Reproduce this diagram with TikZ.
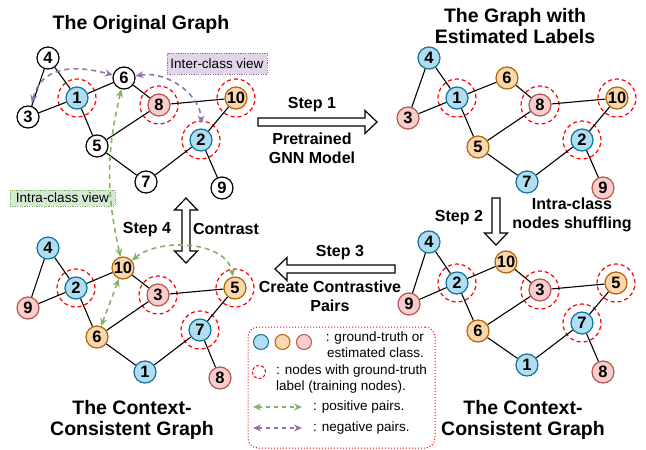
\documentclass[tikz,border=0pt]{standalone}
\usepackage{fontspec}
\setmainfont{Liberation Sans}
\usetikzlibrary{arrows.meta}

\definecolor{bluefill}{HTML}{B1DDF0}
\definecolor{blueline}{HTML}{10739E}
\definecolor{orangefill}{HTML}{FAD7AC}
\definecolor{orangeline}{HTML}{B46504}
\definecolor{redfill}{HTML}{F8CECC}
\definecolor{redline}{HTML}{B85450}
\definecolor{posgreen}{HTML}{82B366}
\definecolor{posfill}{HTML}{D5E8D4}
\definecolor{negpurple}{HTML}{9673A6}
\definecolor{negfill}{HTML}{E1D5E7}

\tikzset{
  vert/.style={circle,draw,fill=white,line width=1.2pt,minimum size=22pt,inner sep=0pt,
    font=\fontsize{16.5}{16.5}\selectfont\bfseries},
  cb/.style={fill=bluefill,draw=blueline},
  co/.style={fill=orangefill,draw=orangeline},
  cr/.style={fill=redfill,draw=redline},
  ring/.style={circle,draw=red,line width=1.2pt,dash pattern=on 4pt off 3pt,
    minimum size=38pt,inner sep=0pt},
  train/.style={label={[ring]center:}},
  edge/.style={line width=1.1pt},
  title/.style={font=\fontsize{19.5}{21.5}\selectfont\bfseries,align=center,inner sep=0pt},
  steplabel/.style={font=\fontsize{16}{19}\selectfont\bfseries,align=center,inner sep=0pt},
  legendtext/.style={font=\fontsize{13.5}{16}\selectfont,inner sep=0pt},
  blockarrow/.style={draw,fill=white,line width=1.2pt,line join=miter},
  pospair/.style={draw=posgreen,line width=1.6pt,dash pattern=on 5pt off 4pt,
    {Stealth[length=8pt,width=7pt]}-{Stealth[length=8pt,width=7pt]}},
  negpair/.style={draw=negpurple,line width=1.6pt,dash pattern=on 5pt off 4pt,
    {Stealth[length=8pt,width=7pt]}-{Stealth[length=8pt,width=7pt]}},
  viewbox/.style={line width=1pt,dash pattern=on 1.2pt off 1.2pt,inner sep=0pt,
    font=\fontsize{13.5}{13.5}\selectfont},
}

\begin{document}
\begin{tikzpicture}[x=1pt,y=-1pt]
\useasboundingbox (0,0) rectangle (646,450);

% the original graph
\node[title] (ttl) at (141,25) {The Original Graph};
\node[vert] (tl4) at (48,58) {4};
\node[vert] (tl6) at (124,78) {6};
\node[vert,cb,train] (tl1) at (77,98) {1};
\node[vert] (tl3) at (28,117) {3};
\node[vert,cr,train] (tl8) at (159,105) {8};
\node[vert,co,train] (tl10) at (236,98) {10};
\node[vert,cb,train] (tl2) at (201,140) {2};
\node[vert] (tl5) at (97,146) {5};
\node[vert] (tl7) at (146,182) {7};
\node[vert] (tl9) at (222,188) {9};
\draw[edge] (tl4) -- (tl1) (tl4) -- (tl3) (tl3) -- (tl1) (tl1) -- (tl6) (tl1) -- (tl5)
  (tl6) -- (tl8) (tl8) -- (tl10) (tl8) -- (tl5) (tl10) -- (tl2) (tl2) -- (tl7)
  (tl5) -- (tl7) (tl2) -- (tl9);

% graph with estimated labels
\node[title] (ttr) at (515,26) {The Graph with\\Estimated Labels};
\node[vert,cb] (tr4) at (429,58) {4};
\node[vert,co] (tr6) at (507,78) {6};
\node[vert,cb,train] (tr1) at (457,98) {1};
\node[vert,cr] (tr3) at (408,118) {3};
\node[vert,cr,train] (tr8) at (540,105) {8};
\node[vert,co,train] (tr10) at (617,98) {10};
\node[vert,cb,train] (tr2) at (582,140) {2};
\node[vert,co] (tr5) at (478,147) {5};
\node[vert,cb] (tr7) at (527,182) {7};
\node[vert,cr] (tr9) at (603,188) {9};
\draw[edge] (tr4) -- (tr1) (tr4) -- (tr3) (tr3) -- (tr1) (tr1) -- (tr6) (tr1) -- (tr5)
  (tr6) -- (tr8) (tr8) -- (tr10) (tr8) -- (tr5) (tr10) -- (tr2) (tr2) -- (tr7)
  (tr5) -- (tr7) (tr2) -- (tr9);

% context-consistent graph, right
\node[title] (tbr) at (523,420) {The Context-\\Consistent Graph};
\node[vert,cb] (br4) at (429,242) {4};
\node[vert,co] (br10) at (506,262) {10};
\node[vert,cb,train] (br2) at (457,283) {2};
\node[vert,cr] (br9) at (409,304) {9};
\node[vert,cr,train] (br3) at (540,290) {3};
\node[vert,co,train] (br5) at (616,283) {5};
\node[vert,co] (br6) at (478,331) {6};
\node[vert,cb,train] (br7) at (582,323) {7};
\node[vert,cb] (br1) at (527,365) {1};
\node[vert,cr] (br8) at (603,372) {8};
\draw[edge] (br4) -- (br2) (br4) -- (br9) (br9) -- (br2) (br2) -- (br10) (br2) -- (br6)
  (br10) -- (br3) (br3) -- (br5) (br3) -- (br6) (br5) -- (br7) (br7) -- (br1)
  (br6) -- (br1) (br7) -- (br8);

% context-consistent graph, left
\node[title] (tbl) at (132,420) {The Context-\\Consistent Graph};
\node[vert,cb] (bl4) at (48,248) {4};
\node[vert,co] (bl10) at (123,268) {10};
\node[vert,cb,train] (bl2) at (76,288) {2};
\node[vert,cr] (bl9) at (28,308) {9};
\node[vert,cr,train] (bl3) at (158,295) {3};
\node[vert,co,train] (bl5) at (235,288) {5};
\node[vert,co] (bl6) at (97,337) {6};
\node[vert,cb,train] (bl7) at (200,330) {7};
\node[vert,cb] (bl1) at (145,372) {1};
\node[vert,cr] (bl8) at (220,378) {8};
\draw[edge] (bl4) -- (bl2) (bl4) -- (bl9) (bl9) -- (bl2) (bl2) -- (bl10) (bl2) -- (bl6)
  (bl10) -- (bl3) (bl3) -- (bl5) (bl3) -- (bl6) (bl5) -- (bl7) (bl7) -- (bl1)
  (bl6) -- (bl1) (bl7) -- (bl8);

% steps
\draw[blockarrow] (258,118) -- (365,118) -- (365,110.5) -- (377,122) -- (365,133.5)
  -- (365,126) -- (258,126) -- cycle;
\node[steplabel] (s1) at (312,105) {Step 1};
\node[steplabel] (s1b) at (312,148.5) {Pretrained\\GNN Model};
\draw[blockarrow] (492,198) -- (492,233) -- (484.5,233) -- (496,245) -- (507.5,233)
  -- (500,233) -- (500,198) -- cycle;
\node[steplabel] (s2) at (459,218) {Step 2};
\node[steplabel] (s2b) at (572,215) {Intra-class\\nodes shuffling};
\draw[blockarrow] (395,265) -- (287,265) -- (287,257.5) -- (275,269) -- (287,280.5)
  -- (287,273) -- (395,273) -- cycle;
\node[steplabel] (s3) at (340,253) {Step 3};
\node[steplabel] (s3b) at (330,296) {Create Contrastive\\Pairs};
\draw[blockarrow] (186,198) -- (197.5,210) -- (190,210) -- (190,251) -- (197.5,251)
  -- (186,263) -- (174.5,251) -- (182,251) -- (182,210) -- (174.5,210) -- cycle;
\node[steplabel] (s4) at (147,230) {Step 4};
\node[steplabel] (s4b) at (226,229) {Contrast};

% views and pairs
\node[viewbox,draw=negpurple,fill=negfill,minimum width=100pt,minimum height=21pt]
  (inter) at (217,63.5) {Inter-class view};
\node[viewbox,draw=posgreen,fill=posfill,minimum width=105pt,minimum height=16pt]
  (intra) at (62.5,198) {Intra-class view};
\draw[negpair,shorten <=3pt] (tl3) to[out=75,in=165,looseness=1.2] (tl6);
\draw[negpair,shorten >=5pt] (tl6) to[out=10,in=90] (tl2);
\draw[pospair] (tl6) to[bend right=13] (bl10);
\draw[pospair] (bl10) to[out=40,in=100,looseness=0.9] (bl5);
\draw[pospair] (bl10) -- (bl6);

% legend
\node[draw=red,line width=1pt,dotted,rounded corners=10pt,minimum width=187pt,
  minimum height=121pt] (legend) at (341.5,387.5) {};
\node[vert,cb,minimum size=15pt,line width=1pt] (lgb) at (261,342) {};
\node[vert,co,minimum size=15pt,line width=1pt] (lgo) at (282.5,342) {};
\node[vert,cr,minimum size=15pt,line width=1pt] (lgr) at (304,342) {};
\node[ring,minimum size=13pt,line width=1pt,dash pattern=on 3pt off 2pt] (lgt) at (259,372) {};
\node[legendtext,anchor=east,align=right] (lg1) at (424,345) {: ground-truth or\\estimated class.};
\node[legendtext,anchor=west,align=left] (lg2) at (276,379) {: nodes with ground-truth\\label (training nodes).};
\coordinate (pa) at (253,407);
\coordinate (pb) at (302,407);
\coordinate (na) at (253,428);
\coordinate (nb) at (302,428);
\draw[pospair,line width=1.3pt,dash pattern=on 4pt off 4pt] (pa) -- (pb);
\draw[negpair,line width=1.3pt,dash pattern=on 4pt off 4pt] (na) -- (nb);
\node[legendtext,anchor=west] (lg3) at (313,407) {: positive pairs.};
\node[legendtext,anchor=west] (lg4) at (313,428) {: negative pairs.};
\end{tikzpicture}
\end{document}
